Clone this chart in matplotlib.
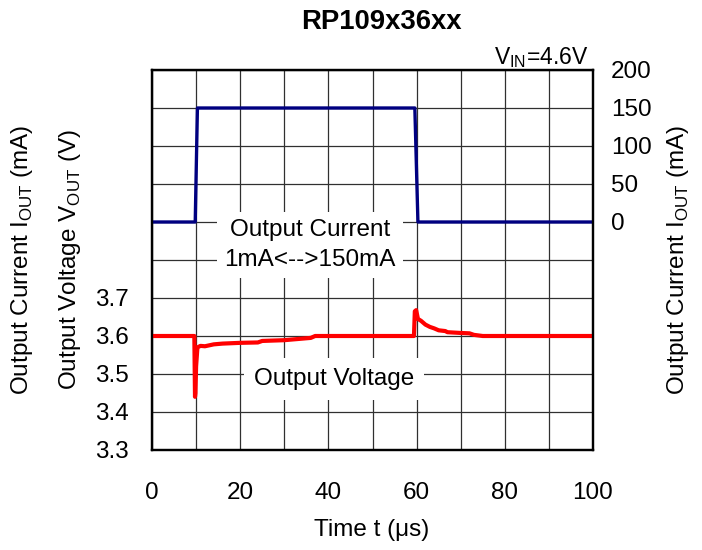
import matplotlib.pyplot as plt
import numpy as np

plt.rcParams['font.family'] = ['Liberation Sans', 'DejaVu Sans']
plt.rcParams['mathtext.fontset'] = 'custom'
plt.rcParams['mathtext.rm'] = 'Liberation Sans'

# data
t_cur = [0, 9.8, 10.3, 59.6, 60.3, 100]
i_out = [0, 0, 150, 150, 0, 0]

t_vout = [0, 9.6, 9.75, 9.85, 10.0, 10.3, 11, 12, 14, 16, 20, 24, 25, 30, 33, 36, 37,
          59.4, 59.6, 59.9, 60.3, 61, 62, 63, 64, 65, 66.5, 67, 70, 72, 73, 75, 100]
v_out = [3.6, 3.6, 3.44, 3.45, 3.52, 3.57, 3.574, 3.573, 3.578, 3.58, 3.582, 3.583, 3.587,
         3.589, 3.592, 3.595, 3.6,
         3.6, 3.665, 3.668, 3.645, 3.64, 3.63, 3.624, 3.62, 3.615, 3.613, 3.61, 3.608,
         3.607, 3.603, 3.6, 3.6]

v_ticks = [3.3, 3.4, 3.5, 3.6, 3.7, 3.8, 3.9, 4.0, 4.1, 4.2, 4.3]
v_labels = ['3.3', '3.4', '3.5', '3.6', '3.7', '', '', '', '', '', '']
i_ticks = [0, 50, 100, 150, 200]
t_ticks = [0, 20, 40, 60, 80, 100]

fs = 17.5

fig = plt.figure(figsize=(7.02, 5.5), dpi=100)
ax = fig.add_axes([152/702, 100/550, 441/702, 380/550])
ax2 = ax.twinx()

ax.plot(t_vout, v_out, color='#ff0000', lw=3, zorder=4)
ax2.plot(t_cur, i_out, color='#000080', lw=2.4)

ax.set_xlim(0, 100)
ax.set_ylim(3.3, 4.3)
ax2.set_ylim(-300, 200)

ax.set_xticks(t_ticks)
ax.set_xticks(np.arange(10, 100, 20), minor=True)
ax.set_yticks(v_ticks)
ax.set_yticklabels(v_labels)
ax2.set_yticks(i_ticks)

ax.grid(True, which='both', color='#303030', lw=0.9)
ax.tick_params(which='both', direction='in', length=0, labelsize=fs)
ax.tick_params(axis='y', pad=17)
ax.tick_params(axis='x', pad=23)
ax2.tick_params(direction='in', length=0, labelsize=fs, pad=13)
for a in (ax, ax2):
    for s in a.spines.values():
        s.set_linewidth(1.6)

ax.text(35.8, 3.84, 'Output Current\n1mA<-->150mA', ha='center', va='center',
        fontsize=fs, linespacing=1.45,
        bbox=dict(facecolor='white', edgecolor='none', pad=5), zorder=3)
ax.text(41.3, 3.487, 'Output Voltage', ha='center', va='center',
        fontsize=fs, bbox=dict(facecolor='white', edgecolor='none', pad=7), zorder=3)

fig.text(381/702, 1 - 22/550, 'RP109x36xx', ha='center', va='center',
         fontsize=19.8, fontweight='bold')
fig.text(588/702, 1 - 64/550, r'V$_{\mathrm{IN}}$=4.6V', ha='right', va='baseline',
         fontsize=16.5)
fig.text(22/702, 1 - 260/550, r'Output Current I$_{\mathrm{OUT}}$ (mA)', rotation=90,
         ha='center', va='center', fontsize=fs)
fig.text(70/702, 1 - 260/550, r'Output Voltage V$_{\mathrm{OUT}}$ (V)', rotation=90,
         ha='center', va='center', fontsize=fs)
fig.text(678/702, 1 - 260/550, r'Output Current I$_{\mathrm{OUT}}$ (mA)', rotation=90,
         ha='center', va='center', fontsize=fs)
fig.text(372/702, 1 - 530/550, 'Time t (μs)', ha='center', va='center', fontsize=fs)

fig.savefig('out.png', dpi=100)
